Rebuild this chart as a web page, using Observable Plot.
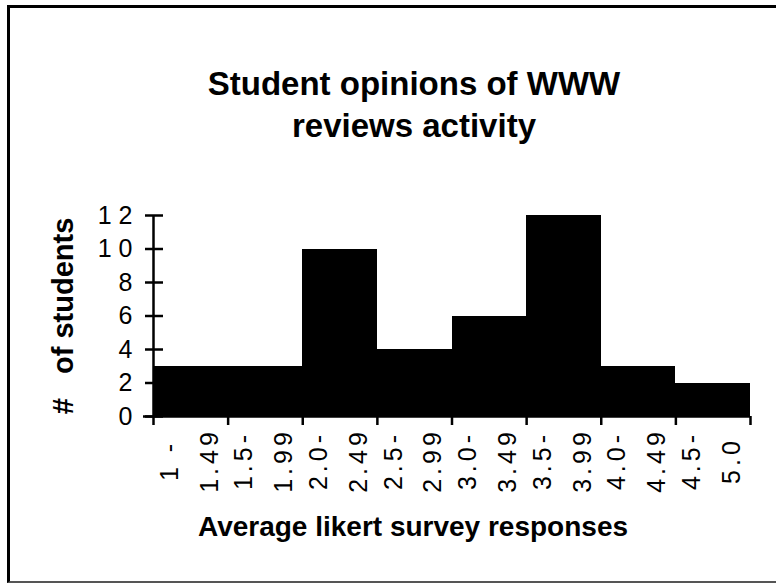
<!DOCTYPE html>
<html>
<head>
<meta charset="utf-8">
<script src="https://cdn.jsdelivr.net/npm/d3@7"></script>
<script src="https://cdn.jsdelivr.net/npm/@observablehq/plot@0.6"></script>
<style>
html, body { margin: 0; padding: 0; background: #fff; }
body { width: 776px; height: 583px; overflow: hidden; position: relative;
       font-family: "Liberation Sans", Arial, Helvetica, sans-serif; color: #000; }
#frame { position: absolute; left: 7px; top: 5px; width: 820px; height: 578px; box-sizing: border-box;
         border-left: 3px solid #000; border-top: 3px solid #000; border-bottom: 2px solid #555; }
#title { position: absolute; left: 114px; width: 600px; top: 63px; text-align: center;
         font-weight: bold; font-size: 33px; line-height: 42px; }
#xlabel { position: absolute; left: 113px; width: 600px; top: 513px; text-align: center;
          font-weight: bold; font-size: 28px; line-height: 28px; }
#chart { position: absolute; left: 0; top: 190px; }
</style>
</head>
<body>
<div id="frame"></div>
<div id="title">Student opinions of WWW<br>reviews activity</div>
<div id="chart"></div>
<div id="xlabel">Average likert survey responses</div>
<script>
// Data
const binStarts = [1.0, 1.5, 2.0, 2.5, 3.0, 3.5, 4.0, 4.5];
const binEnds   = [1.5, 2.0, 2.5, 3.0, 3.5, 4.0, 4.5, 5.0];
const counts    = [3, 3, 10, 4, 6, 12, 3, 2];
const binLabels = ["1 -\n1.49", "1.5-\n1.99", "2.0-\n2.49", "2.5-\n2.99",
                   "3.0-\n3.49", "3.5-\n3.99", "4.0-\n4.49", "4.5-\n5.0"];
const xEdges = [1.0, 1.5, 2.0, 2.5, 3.0, 3.5, 4.0, 4.5, 5.0];
const yTicks = [0, 2, 4, 6, 8, 10, 12];
const yTickLabels = ["0", "2", "4", "6", "8", "1 0", "1 2"];
const yTitle = "#\u00a0\u00a0\u00a0of students";

const bins = binStarts.map((s, i) => ({x1: s, x2: binEnds[i], count: counts[i], label: binLabels[i]}));

const chart = Plot.plot({
  width: 776,
  height: 310,
  marginTop: 25,
  marginBottom: 84,
  marginLeft: 153,
  marginRight: 26,
  style: {fontFamily: "'Liberation Sans', Arial, Helvetica, sans-serif", color: "#000", background: "transparent"},
  x: {domain: [1, 5], axis: null, label: null},
  y: {domain: [0, 12], axis: null, label: null},
  marks: [
    Plot.rectY(bins, {x1: "x1", x2: "x2", y1: 0, y2: "count", fill: "#000", shapeRendering: "crispEdges"}),
    Plot.ruleX([xEdges[0]], {stroke: "#000", strokeWidth: 2.5}),
    Plot.ruleY([0], {stroke: "#000", strokeWidth: 2.5, insetLeft: -10}),
    // crossing y ticks
    Plot.ruleY(yTicks, {x1: xEdges[0], x2: xEdges[0], insetLeft: -8, insetRight: -10, stroke: "#000", strokeWidth: 2.5}),
    Plot.axisY(yTicks, {anchor: "left", tickSize: 0, tickPadding: 21,
      tickFormat: (d, i) => yTickLabels[i], fontSize: 25, label: null}),
    Plot.axisX(xEdges, {anchor: "bottom", tickSize: 9, tickFormat: () => "", strokeWidth: 2.5, label: null}),
    Plot.text(bins, {x: d => (d.x1 + d.x2) / 2, text: "label", frameAnchor: "bottom", dy: 44, dx: -6,
      rotate: -90, textAnchor: "middle", lineAnchor: "middle", lineHeight: 1.6, fontSize: 25, fill: "#000"}),
    Plot.text([yTitle], {text: d => d, frameAnchor: "left", dx: -81, rotate: -90, textAnchor: "middle",
      lineAnchor: "bottom", fontSize: 29, fontWeight: "bold", fill: "#000"})
  ]
});
d3.select(chart).selectAll("text")
  .filter(function() { return this.querySelector("tspan") !== null; })
  .attr("letter-spacing", "4")
  .style("letter-spacing", "4px");
document.getElementById("chart").appendChild(chart);
</script>
</body>
</html>
